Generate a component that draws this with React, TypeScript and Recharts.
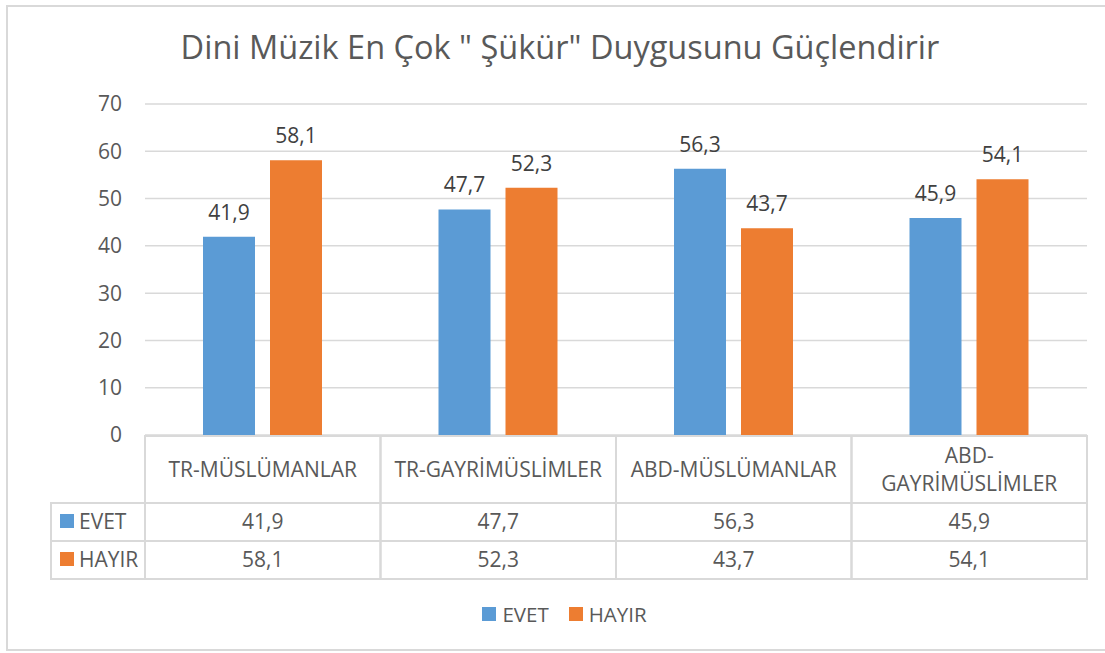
import React from "react";
import {
  BarChart,
  Bar,
  XAxis,
  YAxis,
  CartesianGrid,
  LabelList,
  Legend,
} from "recharts";

const CATEGORIES = [
  "TR-MÜSLÜMANLAR",
  "TR-GAYRİMÜSLİMLER",
  "ABD-MÜSLÜMANLAR",
  "ABD-GAYRİMÜSLİMLER",
];
const EVET = [41.9, 47.7, 56.3, 45.9];
const HAYIR = [58.1, 52.3, 43.7, 54.1];
const Y_TICKS = [0, 10, 20, 30, 40, 50, 60, 70];

const SERIES = [
  { key: "evet", name: "EVET", values: EVET, color: "#5B9BD5" },
  { key: "hayir", name: "HAYIR", values: HAYIR, color: "#ED7D31" },
];

const data = CATEGORIES.map((c, i) => ({
  name: c,
  evet: EVET[i],
  hayir: HAYIR[i],
}));

const W = 1105;
const H = 653;
const PLOT_LEFT = 145;
const PLOT_RIGHT = 1087;
const FONT = "'Open Sans', sans-serif";
const TEXT = "#595959";
const LINE = "#D9D9D9";

const fmt = (v: number) => String(v).replace(".", ",");

const splitLabel = (s: string) => {
  if (s.length > 17 && s.includes("-")) {
    const i = s.indexOf("-") + 1;
    return [s.slice(0, i), s.slice(i)];
  }
  return [s];
};

// the data table under the plot, one column per category tick
const TableTick = (props: any) => {
  const { x, y, payload, index } = props;
  const colW = (PLOT_RIGHT - PLOT_LEFT) / CATEGORIES.length;
  const left = x - colW / 2;
  const right = x + colW / 2;
  const lines = splitLabel(payload.value);
  const rowY = [y + 68, y + 106, y + 144];
  return (
    <g>
      <line x1={left} x2={right} y1={y + 1} y2={y + 1} stroke={LINE} strokeWidth={2} />
      {rowY.map((ry) => (
        <line key={ry} x1={left} x2={right} y1={ry} y2={ry} stroke={LINE} strokeWidth={2} />
      ))}
      <line x1={left} x2={left} y1={y} y2={y + 145} stroke={LINE} strokeWidth={2} />
      <line x1={right} x2={right} y1={y} y2={y + 145} stroke={LINE} strokeWidth={2} />
      {lines.length === 1 ? (
        <text x={x} y={y + 42} textAnchor="middle" fill={TEXT} fontSize={21} fontFamily={FONT}>
          {lines[0]}
        </text>
      ) : (
        lines.map((l, k) => (
          <text key={k} x={x} y={y + 28 + k * 28} textAnchor="middle" fill={TEXT} fontSize={21} fontFamily={FONT}>
            {l}
          </text>
        ))
      )}
      {SERIES.map((s, k) => (
        <text key={s.key} x={x} y={y + 94 + k * 38} textAnchor="middle" fill={TEXT} fontSize={21} fontFamily={FONT}>
          {fmt(s.values[index])}
        </text>
      ))}
      {index === 0 && (
        <g>
          <line x1={51} x2={left} y1={y + 68} y2={y + 68} stroke={LINE} strokeWidth={2} />
          <line x1={51} x2={left} y1={y + 106} y2={y + 106} stroke={LINE} strokeWidth={2} />
          <line x1={51} x2={left} y1={y + 144} y2={y + 144} stroke={LINE} strokeWidth={2} />
          <line x1={51} x2={51} y1={y + 67} y2={y + 145} stroke={LINE} strokeWidth={2} />
          {SERIES.map((s, k) => (
            <g key={s.key}>
              <rect x={60} y={y + 79 + k * 38} width={14} height={14} fill={s.color} />
              <text x={79} y={y + 94 + k * 38} fill={TEXT} fontSize={21} fontFamily={FONT}>
                {s.name}
              </text>
            </g>
          ))}
        </g>
      )}
    </g>
  );
};

const LegendContent = () => (
  <div
    style={{
      display: "flex",
      justifyContent: "center",
      alignItems: "center",
      fontFamily: FONT,
      fontSize: 20.5,
      color: TEXT,
    }}
  >
    {SERIES.map((s) => (
      <div key={s.key} style={{ display: "flex", alignItems: "center", margin: "0 10px" }}>
        <span style={{ width: 14, height: 14, background: s.color, marginRight: 6 }} />
        <span>{s.name}</span>
      </div>
    ))}
  </div>
);

export default function App() {
  return (
    <div style={{ position: "absolute", left: 0, top: 0, width: W, height: H, background: "#fff" }}>
      <div
        style={{
          position: "absolute",
          left: 6,
          top: 5,
          width: W,
          height: 646,
          border: `2px solid ${LINE}`,
          boxSizing: "border-box",
        }}
      />
      <div
        style={{
          position: "absolute",
          left: 0,
          top: 25,
          width: 1120,
          textAlign: "center",
          fontFamily: FONT,
          fontSize: 32.5,
          lineHeight: "44px",
          color: TEXT,
        }}
      >
        Dini Müzik En Çok " Şükür" Duygusunu Güçlendirir
      </div>
      <div style={{ position: "absolute", left: 0, top: 0 }}>
        <BarChart
          width={W}
          height={H}
          data={data}
          margin={{ top: 104, right: W - PLOT_RIGHT, left: PLOT_LEFT - 60, bottom: 73 }}
          barSize={52}
          barGap={15}
        >
          <CartesianGrid vertical={false} stroke={LINE} strokeWidth={1.5} />
          <YAxis
            width={60}
            domain={[0, 70]}
            ticks={Y_TICKS}
            axisLine={false}
            tickLine={false}
            tickMargin={17}
            tick={{ fill: TEXT, fontSize: 21, fontFamily: FONT }}
          />
          <XAxis
            dataKey="name"
            height={145}
            axisLine={false}
            tickLine={false}
            tickSize={0}
            tickMargin={0}
            interval={0}
            tick={<TableTick />}
          />
          <Legend
            verticalAlign="middle"
            content={<LegendContent />}
            wrapperStyle={{ top: 600, left: 12, width: W }}
          />
          {SERIES.map((s) => (
            <Bar key={s.key} dataKey={s.key} name={s.name} fill={s.color} isAnimationActive={false}>
              <LabelList
                dataKey={s.key}
                position="top"
                offset={17}
                formatter={(v: any) => fmt(v)}
                fill="#404040"
                fontSize={21}
                fontFamily={FONT}
              />
            </Bar>
          ))}
        </BarChart>
      </div>
    </div>
  );
}
